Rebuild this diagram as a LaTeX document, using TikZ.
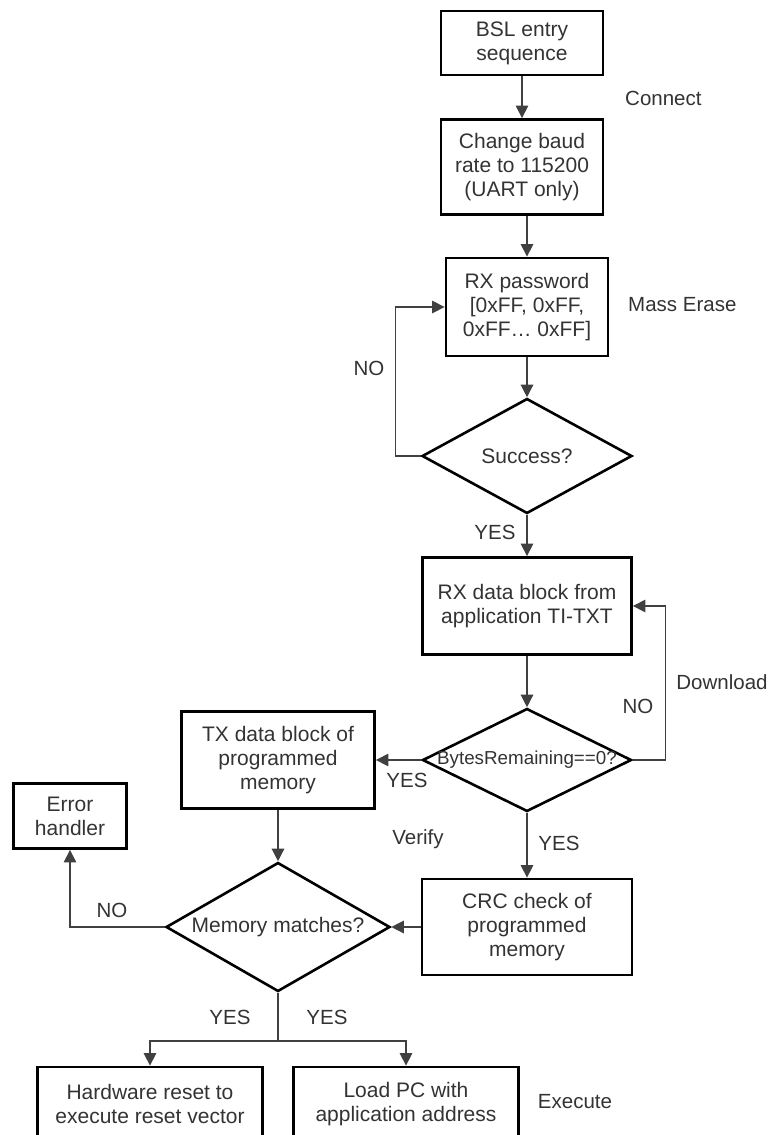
\documentclass[tikz,border=0pt]{standalone}
\usepackage{fontspec}
\setmainfont{Liberation Sans}
\usetikzlibrary{shapes.geometric,arrows.meta}
\definecolor{txtgray}{HTML}{333333}
\definecolor{linegray}{HTML}{404040}

\begin{document}
\begin{tikzpicture}[x=1pt,y=-1pt,
        box/.style={draw=black, line width=2.8pt, align=center, inner sep=0pt,
            text=txtgray, font=\fontsize{21}{24}\selectfont},
        decision/.style={diamond, draw=black, line width=2.6pt, inner sep=0pt,
            text=txtgray, font=\fontsize{21}{24}\selectfont},
        conn/.style={draw=linegray, line width=1.3pt},
        arr/.style={conn, -{Triangle[length=12.5pt,width=12.5pt]}},
        lbl/.style={text=txtgray, font=\fontsize{20.5}{24}\selectfont, inner sep=0pt}]
        \useasboundingbox (0,0) rectangle (771,1135);
        % boxes of the main column
        \node[box, minimum width=162pt, minimum height=64pt] (bsl) at(522,43){BSL entry\\sequence};
        \node[box, minimum width=162pt, minimum height=95pt] (baud) at(522,167){Change baud\\rate to 115200\\(UART only)};
        \node[box, minimum width=162pt, minimum height=98pt] (pwd) at(527,307){RX password\\{[}0xFF, 0xFF,\\0xFF… 0xFF]};
        \node[decision, minimum width=210pt, minimum height=115pt, aspect=1.83] (succ) at(527,456){Success?};
        \node[box, minimum width=209pt, minimum height=97pt] (rxdata) at(527,606){RX data block from\\application TI-TXT};
        \node[decision, minimum width=209pt, minimum height=103pt, aspect=2.03,
            font=\fontsize{18.8}{22}\selectfont] (bytes) at(527,760){\makebox[0pt]{BytesRemaining==0?}};
        \node[box, minimum width=210pt, minimum height=96pt] (crc) at(527,927){CRC check of\\programmed\\memory};
        % verify branch
        \node[box, minimum width=193pt, minimum height=97pt] (txdata) at(278,760){TX data block of\\programmed\\memory};
        \node[decision, minimum width=224pt, minimum height=129pt, aspect=1.74] (match) at(278,927){Memory matches?};
        \node[box, minimum width=113pt, minimum height=65pt] (err) at(70,816){Error\\handler};
        \node[box, minimum width=225pt, minimum height=74pt] (hwreset) at(150,1104){Hardware reset to\\execute reset vector};
        \node[box, minimum width=225pt, minimum height=74pt] (loadpc) at(406,1104){Load PC with\\application address};
        % phase names
        \node[lbl, anchor=west] (connect) at(625,98){Connect};
        \node[lbl, anchor=west] (erase) at(628,305){Mass Erase};
        \node[lbl] (download) at(722,682){Download};
        \node[lbl] (verify) at(418,839){Verify};
        \node[lbl] (execute) at(575,1102){Execute};
        % answers
        \node[lbl] (no1) at(369,368){NO};
        \node[lbl] (yes1) at(495,532){YES};
        \node[lbl] (no2) at(638,706){NO};
        \node[lbl] (yes2) at(407,780){YES};
        \node[lbl] (yes3) at(559,843){YES};
        \node[lbl] (no3) at(112,910){NO};
        \node[lbl] (yes4) at(230,1017){YES};
        \node[lbl] (yes5) at(327,1017){YES};
        % connectors
        \draw[arr] (bsl) -- (baud);
        \draw[arr] (pwd.north |- baud.south) -- (pwd.north);
        \draw[arr] (pwd) -- (succ);
        \draw[arr] (succ.west) -- ++(-25,0) |- (pwd.west);
        \draw[arr] (succ) -- (rxdata);
        \draw[arr] (rxdata) -- (bytes);
        \draw[arr] (bytes.east) -- ++(33,0) |- (rxdata.east);
        \draw[arr] (bytes.west) -- (txdata.east);
        \draw[arr] (bytes) -- (crc);
        \draw[arr] (crc.west) -- (match.east);
        \draw[arr] (txdata) -- (match);
        \draw[arr] (match.west) -| (err.south);
        \coordinate (split) at (match.south |- 0,1041);
        \draw[conn] (match.south) -- (split);
        \draw[arr] (split) -| (hwreset.north);
        \draw[arr] (split) -| (loadpc.north);
\end{tikzpicture}
\end{document}
